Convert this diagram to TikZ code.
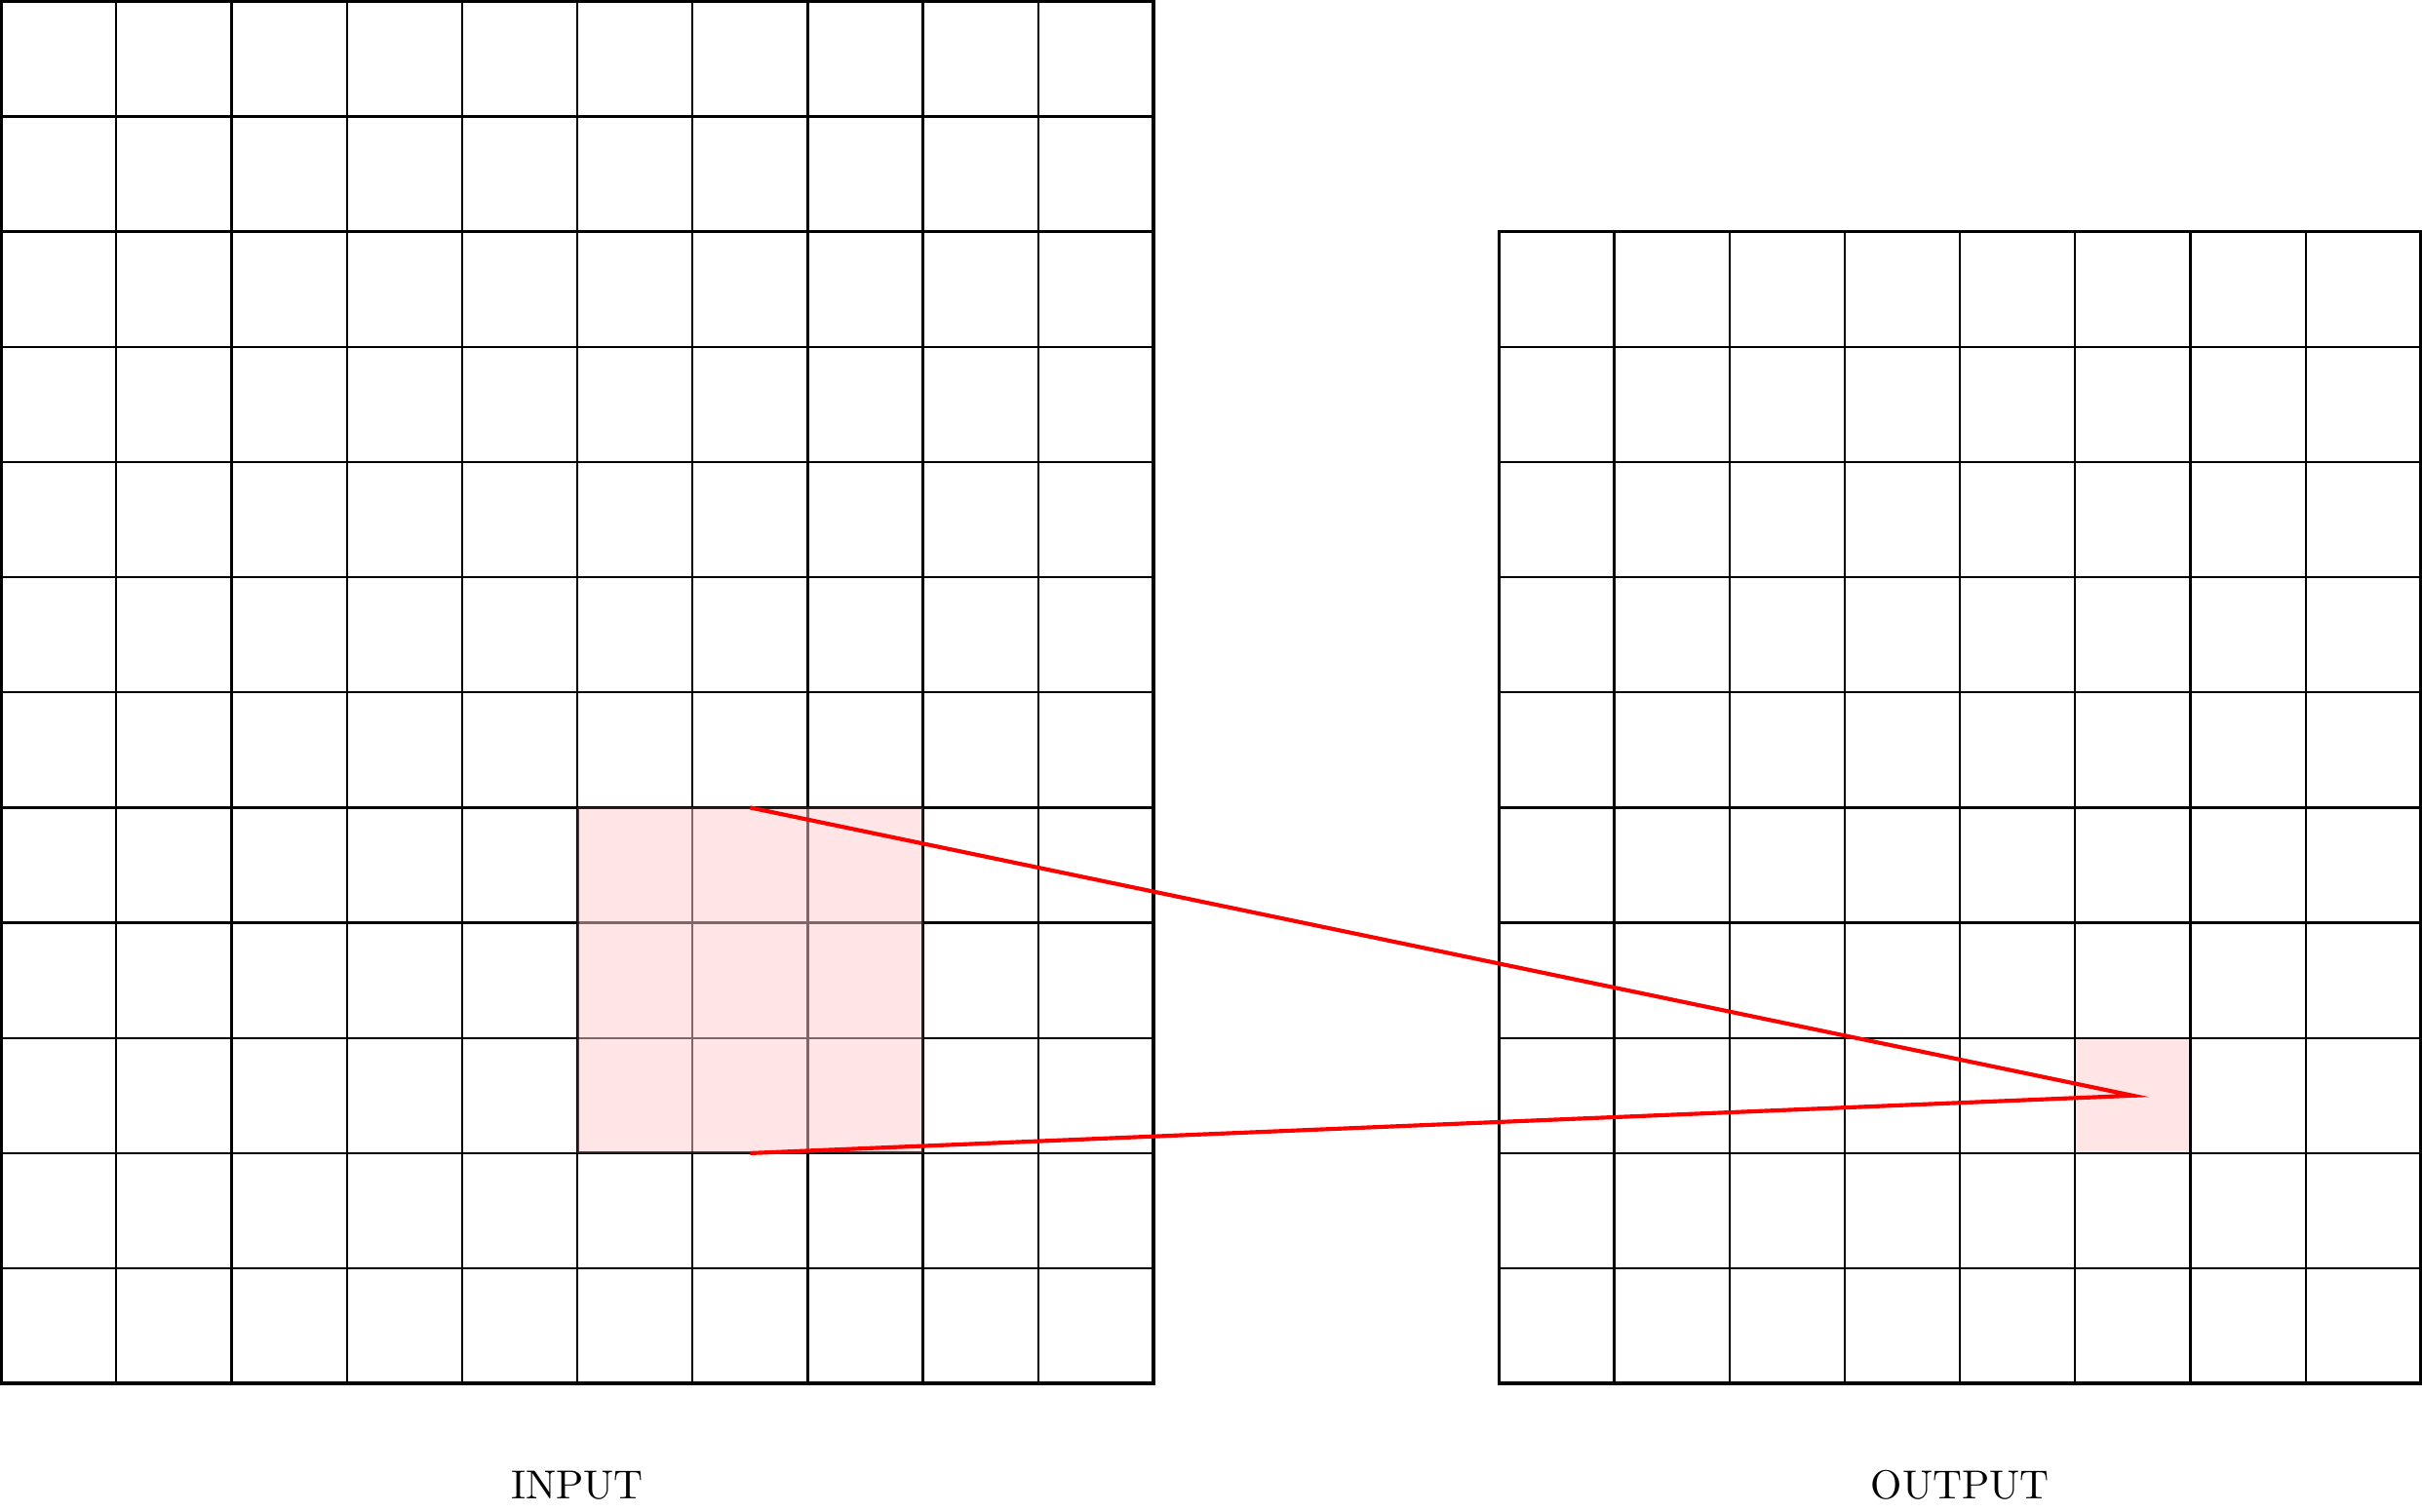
\documentclass[tikz,border=0pt]{standalone}
\begin{document}
\begin{tikzpicture}[x=1cm,y=1cm,
  gridline/.style={line width=0.55pt,black},
  frame/.style={line width=0.9pt,black},
  hilite/.style={fill=red!20,opacity=0.5},
  link/.style={red,line width=1pt,line join=miter}]
\useasboundingbox (-0.01,-1.11) rectangle (21.01,12.01);
% output highlighted cell (under grid)
\fill[red!10] (18,2) rectangle (19,3);
% input grid
\draw[gridline] (0,0) grid (10,12);
\draw[frame] (0,0) rectangle (10,12);
% output grid
\draw[gridline] (13,0) grid (21,10);
\draw[frame] (13,0) rectangle (21,10);
% input highlight (over grid)
\fill[hilite] (5,2) rectangle (8,5);
\draw[line width=0.7pt,black,opacity=0.7] (5,2) rectangle (8,5);
% connectors
\coordinate (a) at (6.5,5);
\coordinate (b) at (6.5,2);
\coordinate (t) at (18.5,2.5);
\draw[link] (a) -- (t) -- (b);
% labels
\node (inlabel) at (5,-0.88) {INPUT};
\node (outlabel) at (17,-0.88) {OUTPUT};
\end{tikzpicture}
\end{document}
